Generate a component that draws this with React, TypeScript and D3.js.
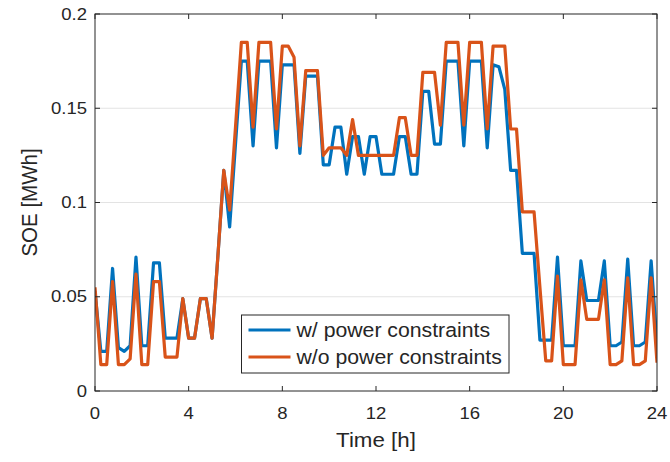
import React from "react";
import * as d3 from "d3";

const xTicks = [0, 4, 8, 12, 16, 20, 24];
const yTicks = [0, 0.05, 0.1, 0.15, 0.2];
const yTickLabels = ["0", "0.05", "0.1", "0.15", "0.2"];
const gridValues = [0.05, 0.1, 0.15];

// sampled every 15 minutes, 0h .. 24h
const timeStep = 0.25;
const withPower = [
  0.053, 0.021, 0.021, 0.065,
  0.023, 0.021, 0.024, 0.071,
  0.024, 0.024, 0.068, 0.068,
  0.028, 0.028, 0.028, 0.049,
  0.028, 0.028, 0.049, 0.049,
  0.028, 0.072, 0.117, 0.087,
  0.131, 0.175, 0.175, 0.130,
  0.175, 0.175, 0.175, 0.129,
  0.173, 0.173, 0.173, 0.126,
  0.167, 0.167, 0.167, 0.120,
  0.120, 0.140, 0.140, 0.115,
  0.135, 0.135, 0.115, 0.135,
  0.135, 0.115, 0.115, 0.115,
  0.135, 0.135, 0.115, 0.115,
  0.159, 0.159, 0.131, 0.131,
  0.175, 0.175, 0.175, 0.130,
  0.175, 0.175, 0.175, 0.129,
  0.173, 0.172, 0.160, 0.117,
  0.117, 0.073, 0.073, 0.073,
  0.027, 0.027, 0.027, 0.071,
  0.024, 0.024, 0.024, 0.069,
  0.048, 0.048, 0.048, 0.069,
  0.024, 0.024, 0.026, 0.070,
  0.024, 0.024, 0.026, 0.069,
  0.025,
];
const withoutPower = [
  0.055, 0.014, 0.014, 0.058,
  0.014, 0.014, 0.017, 0.062,
  0.014, 0.014, 0.058, 0.058,
  0.018, 0.018, 0.018, 0.049,
  0.028, 0.028, 0.049, 0.049,
  0.028, 0.072, 0.117, 0.096,
  0.140, 0.185, 0.185, 0.140,
  0.185, 0.185, 0.185, 0.139,
  0.183, 0.183, 0.177, 0.130,
  0.170, 0.170, 0.170, 0.125,
  0.129, 0.129, 0.129, 0.125,
  0.144, 0.125, 0.125, 0.125,
  0.125, 0.125, 0.125, 0.125,
  0.145, 0.145, 0.125, 0.125,
  0.169, 0.169, 0.169, 0.141,
  0.185, 0.185, 0.185, 0.141,
  0.185, 0.185, 0.185, 0.139,
  0.183, 0.183, 0.183, 0.139,
  0.139, 0.095, 0.095, 0.095,
  0.055, 0.016, 0.016, 0.061,
  0.014, 0.014, 0.014, 0.059,
  0.038, 0.038, 0.038, 0.059,
  0.014, 0.014, 0.016, 0.060,
  0.014, 0.014, 0.016, 0.060,
  0.015,
];
const seriesNames = ["w/ power constraints", "w/o power constraints"];
const seriesColors = ["#0072BD", "#D95319"];

const W = 670;
const H = 462;
const L = 95, R = 657, T = 14, B = 391;
const SX = 1.09;
const FONT = "'Liberation Sans', Arial, Helvetica, sans-serif";
const AX = "#262626";

export default function App() {
  const x = d3.scaleLinear().domain([0, 24]).range([L, R]);
  const y = d3.scaleLinear().domain([0, 0.2]).range([B, T]);
  const line = d3
    .line<number>()
    .x((_, i) => x(i * timeStep))
    .y((d) => y(d));
  const series = [withPower, withoutPower];

  const txt = (
    key: string,
    tx: number,
    ty: number,
    s: string,
    size: number,
    anchor: string,
    rotate = 0
  ) => (
    <text
      key={key}
      transform={`translate(${tx},${ty}) rotate(${rotate}) scale(${rotate ? 1 : SX},${rotate ? SX : 1})`}
      fontFamily={FONT}
      fontSize={size}
      textAnchor={anchor}
      dominantBaseline="central"
      fill={AX}
    >
      {s}
    </text>
  );

  const legX = 241.5, legY = 315, legW = 267.5, legH = 58;

  return (
    <svg
      width={W}
      height={H}
      style={{ position: "absolute", left: 0, top: 0, background: "#fff" }}
    >
      <defs>
        <clipPath id="plotclip">
          <rect x={L} y={T} width={R - L} height={B - T} />
        </clipPath>
      </defs>
      <rect x={0} y={0} width={W} height={H} fill="#fff" />
      {gridValues.map((v) => (
        <line key={"g" + v} x1={L} x2={R} y1={y(v)} y2={y(v)} stroke="#e3e3e3" strokeWidth={1} />
      ))}
      <g clipPath="url(#plotclip)">
        {series.map((s, i) => (
          <path
            key={"s" + i}
            d={line(s) || ""}
            fill="none"
            stroke={seriesColors[i]}
            strokeWidth={3.2}
            strokeLinejoin="round"
          />
        ))}
      </g>
      <rect x={L} y={T} width={R - L} height={B - T} fill="none" stroke={AX} strokeWidth={1} />
      {xTicks.map((t) => (
        <g key={"xt" + t}>
          <line x1={x(t)} x2={x(t)} y1={B} y2={B - 5} stroke={AX} />
          <line x1={x(t)} x2={x(t)} y1={T} y2={T + 5} stroke={AX} />
        </g>
      ))}
      {yTicks.map((t) => (
        <g key={"yt" + t}>
          <line x1={L} x2={L + 5} y1={y(t)} y2={y(t)} stroke={AX} />
          <line x1={R} x2={R - 5} y1={y(t)} y2={y(t)} stroke={AX} />
        </g>
      ))}
      {xTicks.map((t) => txt("xl" + t, x(t), B + 22, String(t), 17, "middle"))}
      {yTicks.map((t, i) => txt("yl" + t, L - 8, y(t), yTickLabels[i], 17, "end"))}
      {txt("xlab", (L + R) / 2, 440, "Time [h]", 20.5, "middle")}
      {txt("ylab", 30, (T + B) / 2, "SOE [MWh]", 20.5, "middle", -90)}
      <rect x={legX} y={legY} width={legW} height={legH} fill="#fff" stroke={AX} strokeWidth={1} />
      {seriesNames.map((n, i) => {
        const cy = legY + 15 + i * 27;
        return (
          <g key={"leg" + i}>
            <line x1={legX + 7} x2={legX + 49} y1={cy} y2={cy} stroke={seriesColors[i]} strokeWidth={3.2} />
            {txt("lt" + i, legX + 55, cy, n, 19.5, "start")}
          </g>
        );
      })}
    </svg>
  );
}
